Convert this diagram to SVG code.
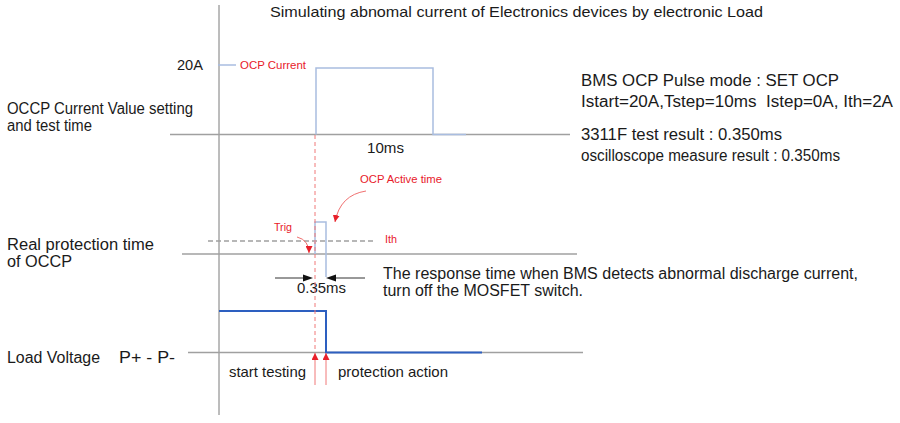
<svg xmlns="http://www.w3.org/2000/svg" width="900" height="423" viewBox="0 0 900 423">
<style>
text{font-family:"Liberation Sans",Arial,sans-serif;fill:#1a1a1a}
.lbl{font-size:16px}
.red{fill:#e8202a;font-size:11px}
.grey{stroke:#a0a0a0;stroke-width:1.3;fill:none}
.axis{stroke:#7a7a7a;stroke-width:1;fill:none}
.pulse{stroke:#a9bde0;stroke-width:1.5;fill:none}
.volt{stroke:#2d5fc0;stroke-width:2;fill:none}
.rdash{stroke:#f07878;stroke-width:1;stroke-dasharray:4 3;fill:none}
.rline{stroke:#f07878;stroke-width:1;fill:none}
.gdash{stroke:#a0a0a0;stroke-width:1.3;stroke-dasharray:5 3;fill:none}
.dim{stroke:#333;stroke-width:1;fill:none}
.curve{stroke:#f07070;stroke-width:1;fill:none}
</style>
<defs>
<marker id="rtip" viewBox="0 0 10 10" refX="10" refY="5" markerWidth="7" markerHeight="7" markerUnits="userSpaceOnUse" orient="auto"><path d="M0,0L10,5L0,10z" fill="#e8202a"/></marker>
</defs>
<g id="title"><text x="270" y="17" font-size="15" textLength="493" lengthAdjust="spacingAndGlyphs">Simulating abnomal current of Electronics devices by electronic Load</text></g>
<g id="axes">
<line class="axis" x1="219" y1="5" x2="219" y2="415"/>
<line class="grey" x1="170" y1="134.5" x2="570" y2="134.5"/>
<line class="grey" x1="182" y1="254" x2="577" y2="254"/>
<line class="grey" x1="188" y1="352.5" x2="583" y2="352.5"/>
<line class="gdash" x1="208" y1="241" x2="375" y2="241"/>
</g>
<g id="left-labels">
<text class="lbl" x="7" y="114" textLength="186" lengthAdjust="spacingAndGlyphs">OCCP Current Value setting</text>
<text class="lbl" x="7" y="131" textLength="85" lengthAdjust="spacingAndGlyphs">and test time</text>
<text class="lbl" x="7" y="250" textLength="147" lengthAdjust="spacingAndGlyphs">Real protection time</text>
<text class="lbl" x="7" y="267" textLength="65" lengthAdjust="spacingAndGlyphs">of OCCP</text>
<text class="lbl" y="363"><tspan x="7" textLength="93" lengthAdjust="spacingAndGlyphs">Load Voltage</tspan><tspan x="119" textLength="56" lengthAdjust="spacingAndGlyphs">P+ - P-</tspan></text>
</g>
<g id="ocp-current">
<text x="177" y="70" font-size="14" textLength="26" lengthAdjust="spacingAndGlyphs">20A</text>
<line class="pulse" x1="218" y1="65" x2="236" y2="65"/>
<text class="red" x="240" y="69" textLength="66" lengthAdjust="spacingAndGlyphs">OCP Current</text>
<path class="pulse" d="M316,134.5V68H433V134.5H466"/>
<text x="367" y="153" font-size="15" textLength="37" lengthAdjust="spacingAndGlyphs">10ms</text>
</g>
<g id="protection">
<path class="pulse" d="M315,254V222H326V277"/>
<text class="red" x="274" y="231" textLength="18" lengthAdjust="spacingAndGlyphs">Trig</text>
<text class="red" x="385" y="243" textLength="12" lengthAdjust="spacingAndGlyphs">Ith</text>
<text class="red" x="360" y="183" textLength="82" lengthAdjust="spacingAndGlyphs">OCP Active time</text>
<text x="297" y="293" font-size="15" textLength="49" lengthAdjust="spacingAndGlyphs">0.35ms</text>
</g>
<g id="voltage">
<path class="volt" d="M219,311H326V352.5H482"/>
<text x="229" y="377" font-size="15" textLength="77" lengthAdjust="spacingAndGlyphs">start testing</text>
<text x="338" y="377" font-size="15" textLength="110" lengthAdjust="spacingAndGlyphs">protection action</text>
</g>
<g id="right-notes">
<text class="lbl" x="581" y="86" textLength="258" lengthAdjust="spacingAndGlyphs">BMS OCP Pulse mode : SET OCP</text>
<text class="lbl" x="581" y="107" textLength="312" lengthAdjust="spacingAndGlyphs" xml:space="preserve">Istart=20A,Tstep=10ms  Istep=0A, Ith=2A</text>
<text class="lbl" x="581" y="140" textLength="201" lengthAdjust="spacingAndGlyphs">3311F test result : 0.350ms</text>
<text class="lbl" x="581" y="161" textLength="259" lengthAdjust="spacingAndGlyphs">oscilloscope measure result : 0.350ms</text>
<text class="lbl" x="383" y="279" textLength="475" lengthAdjust="spacingAndGlyphs">The response time when BMS detects abnormal discharge current,</text>
<text class="lbl" x="383" y="296" textLength="200" lengthAdjust="spacingAndGlyphs">turn off the MOSFET switch.</text>
</g>
<g id="connectors">
<line class="rdash" x1="315" y1="135" x2="315" y2="352"/>
<line class="rline" x1="315" y1="385" x2="315" y2="353" marker-end="url(#rtip)"/>
<line class="rline" x1="326" y1="385" x2="326" y2="353" marker-end="url(#rtip)"/>
<path class="curve" d="M366,191Q340,195 335,222" marker-end="url(#rtip)"/>
<path class="curve" d="M297,237Q309,240 309,253" marker-end="url(#rtip)"/>
<line class="dim" x1="275" y1="278" x2="304" y2="278"/>
<path d="M313,278L303,274.5V281.5z" fill="#111"/>
<line class="dim" x1="336" y1="278" x2="365" y2="278"/>
<path d="M326,278L336,274.5V281.5z" fill="#111"/>
</g>
</svg>
